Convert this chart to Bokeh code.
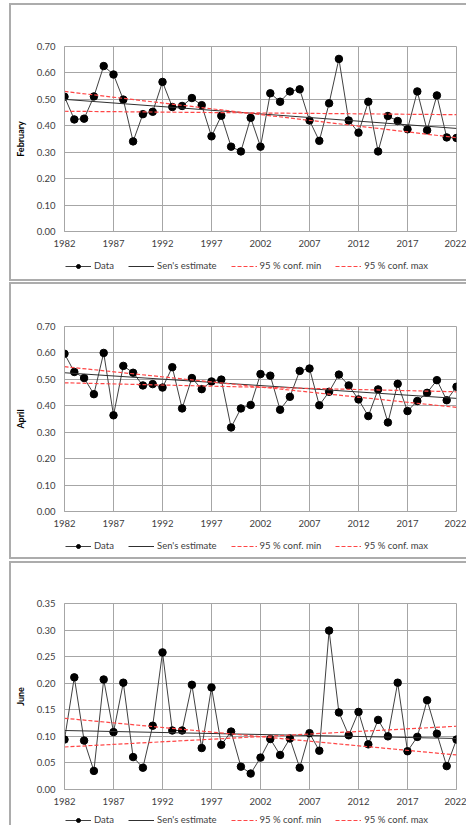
from bokeh.plotting import figure
from bokeh.models import (Legend, LegendItem, NumeralTickFormatter,
                          FixedTicker, Range1d, Div)
from bokeh.layouts import column, row
from bokeh.embed import file_html
from bokeh.resources import INLINE

years = list(range(1982, 2023))
x_ticks = [1982, 1987, 1992, 1997, 2002, 2007, 2012, 2017, 2022]
y_ticks_feb_apr = [0.0, 0.1, 0.2, 0.3, 0.4, 0.5, 0.6, 0.7]
y_ticks_jun = [0.0, 0.05, 0.10, 0.15, 0.20, 0.25, 0.30, 0.35]

february = [0.510, 0.424, 0.427, 0.511, 0.626, 0.594, 0.499, 0.341, 0.444, 0.453,
            0.566, 0.471, 0.475, 0.505, 0.478, 0.360, 0.438, 0.321, 0.303, 0.430,
            0.321, 0.523, 0.491, 0.530, 0.538, 0.420, 0.343, 0.485, 0.653, 0.420,
            0.374, 0.491, 0.303, 0.437, 0.418, 0.387, 0.530, 0.383, 0.515, 0.356,
            0.354]
april = [0.597, 0.528, 0.505, 0.444, 0.600, 0.364, 0.551, 0.525, 0.477, 0.482,
         0.469, 0.546, 0.390, 0.505, 0.463, 0.492, 0.499, 0.318, 0.390, 0.403,
         0.520, 0.514, 0.385, 0.434, 0.532, 0.541, 0.402, 0.453, 0.518, 0.477,
         0.424, 0.361, 0.462, 0.337, 0.483, 0.380, 0.418, 0.449, 0.497, 0.421,
         0.472]
june = [0.094, 0.211, 0.092, 0.035, 0.207, 0.108, 0.201, 0.061, 0.041, 0.120,
        0.258, 0.111, 0.111, 0.197, 0.078, 0.192, 0.084, 0.109, 0.043, 0.030,
        0.060, 0.095, 0.065, 0.096, 0.041, 0.106, 0.073, 0.299, 0.145, 0.102,
        0.146, 0.085, 0.131, 0.100, 0.201, 0.072, 0.099, 0.168, 0.105, 0.044,
        0.094]

trend_x = [1982, 2022]
feb_sen = [0.500, 0.390]
feb_conf_min = [0.530, 0.355]
feb_conf_max = [0.455, 0.442]
apr_sen = [0.525, 0.428]
apr_conf_min = [0.548, 0.394]
apr_conf_max = [0.487, 0.453]
jun_sen = [0.111, 0.096]
jun_conf_min = [0.134, 0.065]
jun_conf_max = [0.080, 0.119]

legend_labels = ["Data", "Sen's estimate", "95 % conf. min", "95 % conf. max"]

FONT = "Lato"
GRID = "#a6a6a6"
TEXT = "#404040"
LINE_COLOR = "#acacac"
DATA_COLOR = "#404040"
SEN_COLOR = "#303030"
CONF_COLOR = "#ff4646"


def hline(top=0):
    return Div(text="", width=457, height=2, margin=(top, 0, 0, 9),
               styles={"background-color": LINE_COLOR})


def vline(h):
    return Div(text="", width=2, height=h, margin=(0, 0, 0, 9),
               styles={"background-color": LINE_COLOR})


def gap(h):
    return Div(text="", width=10, height=h, margin=(0, 0, 0, 0))


def draw_series(fig, vals, sen, cmin, cmax):
    r_line = fig.line(years, vals, color=DATA_COLOR, line_width=1)
    r_pts = fig.scatter(years, vals, size=7.5, color="black")
    r_sen = fig.line(trend_x, sen, color=SEN_COLOR, line_width=1)
    r_min = fig.line(trend_x, cmin, color=CONF_COLOR, line_width=1.2, line_dash="4 2")
    r_max = fig.line(trend_x, cmax, color=CONF_COLOR, line_width=1.2, line_dash="4 2")
    return r_line, r_pts, r_sen, r_min, r_max


def make_panel(vals, sen, cmin, cmax, label, ymax, yticks, height, top, bottom):
    p = figure(width=455, height=height, output_backend="svg", toolbar_location=None,
               x_range=Range1d(1982, 2022), y_range=Range1d(0, ymax),
               min_border_left=53, min_border_right=10,
               min_border_top=top, min_border_bottom=bottom)
    p.background_fill_color = "white"
    p.border_fill_color = "white"
    p.outline_line_color = GRID
    p.outline_line_width = 1

    draw_series(p, vals, sen, cmin, cmax)

    p.xaxis.ticker = FixedTicker(ticks=x_ticks)
    p.yaxis.ticker = FixedTicker(ticks=yticks)
    p.yaxis.formatter = NumeralTickFormatter(format="0.00")
    p.xgrid.grid_line_color = GRID
    p.ygrid.grid_line_color = GRID
    for ax in (p.xaxis, p.yaxis):
        ax.axis_line_color = GRID
        ax.major_tick_line_color = None
        ax.minor_tick_line_color = None
        ax.major_tick_out = 0
        ax.major_tick_in = 0
        ax.minor_tick_out = 0
        ax.minor_tick_in = 0
        ax.major_label_text_font = FONT
        ax.major_label_text_font_size = "9.5px"
        ax.major_label_text_color = TEXT
    p.yaxis.major_label_standoff = 9
    p.xaxis.major_label_standoff = 8
    p.yaxis.axis_label = label
    p.yaxis.axis_label_text_font = FONT
    p.yaxis.axis_label_text_font_style = "bold"
    p.yaxis.axis_label_text_font_size = "9px"
    p.yaxis.axis_label_text_color = "black"
    p.yaxis.axis_label_standoff = 8
    return p


def make_legend(vals, sen, cmin, cmax, height, y):
    # legend strip; its series lie outside its (0..1) ranges, so only the key shows
    q = figure(width=455, height=height, output_backend="svg", toolbar_location=None,
               x_range=Range1d(0, 1), y_range=Range1d(0, 1),
               x_axis_type=None, y_axis_type=None,
               min_border_left=0, min_border_right=0,
               min_border_top=0, min_border_bottom=0)
    q.grid.visible = False
    q.outline_line_color = None
    q.background_fill_color = "white"
    q.border_fill_color = "white"
    r_line, r_pts, r_sen, r_min, r_max = draw_series(q, vals, sen, cmin, cmax)
    legend = Legend(items=[
        LegendItem(label=legend_labels[0], renderers=[r_line, r_pts]),
        LegendItem(label=legend_labels[1], renderers=[r_sen]),
        LegendItem(label=legend_labels[2], renderers=[r_min]),
        LegendItem(label=legend_labels[3], renderers=[r_max]),
    ], orientation="horizontal", location=(1, y),
        border_line_color=None, background_fill_alpha=0,
        padding=0, margin=0, spacing=14, glyph_width=26, glyph_height=10,
        label_height=10, label_standoff=3,
        label_text_font=FONT, label_text_font_size="9.5px", label_text_color=TEXT)
    q.add_layout(legend)
    return q


p1 = make_panel(february, feb_sen, feb_conf_min, feb_conf_max, "February", 0.7,
                y_ticks_feb_apr, 248, 41, 22)
l1 = make_legend(february, feb_sen, feb_conf_min, feb_conf_max, 26, 8)
p2 = make_panel(april, apr_sen, apr_conf_min, apr_conf_max, "April", 0.7,
                y_ticks_feb_apr, 249, 42, 22)
l2 = make_legend(april, apr_sen, apr_conf_min, apr_conf_max, 24, 6)
p3 = make_panel(june, jun_sen, jun_conf_min, jun_conf_max, "June", 0.35,
                y_ticks_jun, 248, 40, 22)
l3 = make_legend(june, jun_sen, jun_conf_min, jun_conf_max, 14, 0)

layout = column(
    hline(3),
    row(vline(274), column(p1, l1, spacing=0), spacing=0),
    hline(0),
    gap(1),
    hline(0),
    row(vline(273), column(p2, l2, spacing=0), spacing=0),
    hline(0),
    gap(2),
    hline(0),
    row(vline(262), column(p3, l3, spacing=0), spacing=0),
    spacing=0,
)
open("out.html", "w").write(file_html(layout, INLINE))
